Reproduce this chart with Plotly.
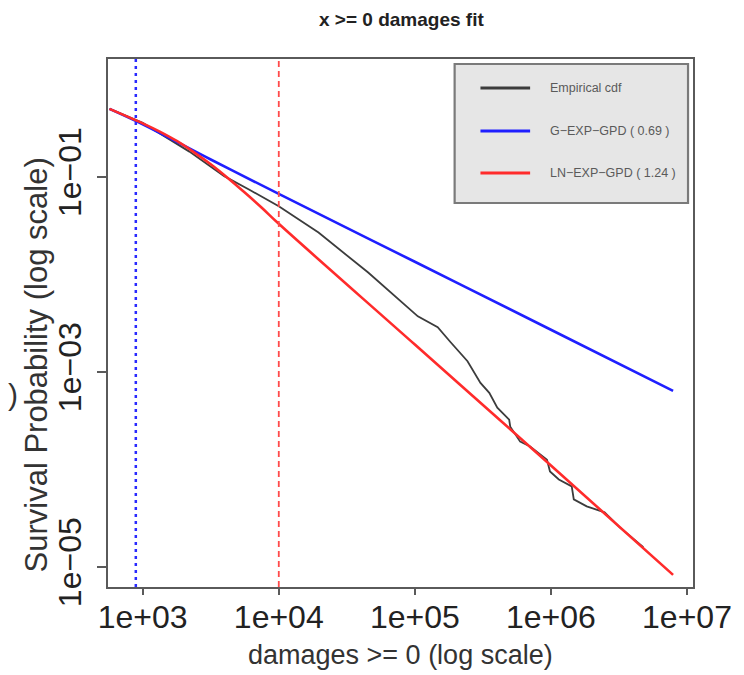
import plotly.graph_objects as go

# ---------------- data ----------------
emp_x = [570, 1000, 2203, 3972, 6039, 8453, 10000, 19590, 45390, 105200, 147200,
         183200, 243800, 303400, 352400, 403600, 493200, 502300, 594300, 703100,
         935400, 984000, 1143000, 1422000, 1472000, 1832000, 2477000, 3192000, 4775000]
emp_y = [0.50, 0.359, 0.182, 0.102, 0.0745, 0.0575, 0.0501, 0.0269, 0.01047, 0.00372,
         0.00288, 0.00202, 0.00129, 7.73e-4, 6.11e-4, 4.30e-4, 3.24e-4, 2.75e-4, 1.93e-4,
         1.72e-4, 1.26e-4, 9.55e-5, 7.91e-5, 6.71e-5, 4.94e-5, 4.19e-5, 3.64e-5, 2.56e-5, 1.60e-5]

gexp_x = [570, 1000, 3162, 10000, 100000, 1000000, 7900000]
gexp_y = [0.50, 0.347, 0.151, 0.0671, 0.0135, 0.00271, 6.4e-4]

lnexp_x = [570, 1000, 1334, 1778, 2371, 3162, 4217, 5623, 7499, 10000,
           100000, 1000000, 7900000]
lnexp_y = [0.50, 0.355, 0.292, 0.234, 0.180, 0.135, 0.0977, 0.0692, 0.0484, 0.0331,
           0.00191, 1.10e-4, 8.3e-6]

g_threshold = 890
ln_threshold = 10000

x_tickvals = [1e3, 1e4, 1e5, 1e6, 1e7]
x_ticktext = ["1e+03", "1e+04", "1e+05", "1e+06", "1e+07"]
y_tickvals = [1e-1, 1e-3, 1e-5]
y_ticktext = ["1e\u221201", "1e\u221203", "1e\u221205"]

legend_labels = ["Empirical cdf", "G\u2212EXP\u2212GPD ( 0.69 )", "LN\u2212EXP\u2212GPD ( 1.24 )"]
c_emp, c_g, c_ln = "#3c3c3c", "#1f1fff", "#ff2b2b"

# ---------------- figure ----------------
# page is 744x675; the html body adds an 8px offset, so the figure is drawn 8px in
OFF = 8
W, H = 744 - OFF, 675 - OFF
BOX_L, BOX_R, BOX_T, BOX_B = 108, 697, 59, 587          # plot box in page pixels
L, T = BOX_L - OFF, BOX_T - OFF
R, B = (W + OFF) - BOX_R, (H + OFF) - BOX_B
pw, ph = BOX_R - BOX_L, BOX_B - BOX_T

def px(x):
    return (x - BOX_L) / pw

def py(y):
    return (BOX_B - y) / ph

fig = go.Figure()
fig.add_trace(go.Scatter(x=emp_x, y=emp_y, mode="lines",
                         line=dict(color=c_emp, width=1.8), showlegend=False))
fig.add_trace(go.Scatter(x=gexp_x, y=gexp_y, mode="lines", line_shape="spline",
                         line=dict(color=c_g, width=2.6), showlegend=False))
fig.add_trace(go.Scatter(x=lnexp_x, y=lnexp_y, mode="lines", line_shape="spline",
                         line=dict(color=c_ln, width=2.6), showlegend=False))

shapes = [
    dict(type="line", xref="x", yref="paper", x0=g_threshold, x1=g_threshold, y0=0, y1=1,
         line=dict(color="#2a2aff", width=2.5, dash="3px,4px")),
    dict(type="line", xref="x", yref="paper", x0=ln_threshold, x1=ln_threshold, y0=0, y1=1,
         line=dict(color="#ff4a4a", width=1.8, dash="6px,4px")),
    # legend box
    dict(type="rect", xref="paper", yref="paper", x0=px(457), x1=px(692), y0=py(203), y1=py(64),
         fillcolor="#e6e6e6", line=dict(color="#7a7a7a", width=2.2)),
]
annotations = []
rows = [88, 131, 173]
for lab, col, ry in zip(legend_labels, [c_emp, c_g, c_ln], rows):
    shapes.append(dict(type="line", xref="paper", yref="paper", x0=px(483), x1=px(533),
                       y0=py(ry), y1=py(ry), line=dict(color=col, width=3)))
    annotations.append(dict(xref="paper", yref="paper", x=px(551), y=py(ry), text=lab,
                            showarrow=False, xanchor="left", yanchor="middle",
                            font=dict(size=12.5, color="#5a5a5a")))

# title
annotations.append(dict(xref="paper", yref="paper", x=px(404), y=py(19),
                        text="<b>x >= 0 damages fit</b>", showarrow=False,
                        xanchor="center", yanchor="middle",
                        font=dict(size=19, color="#222")))
# y axis title
annotations.append(dict(xref="paper", yref="paper", x=px(36), y=py(365),
                        text="Survival Probability (log scale)", showarrow=False,
                        textangle=-90, xanchor="center", yanchor="middle",
                        font=dict(size=31, color="#333")))
# stray bracket at the far left of the reference
annotations.append(dict(xref="paper", yref="paper", x=px(12), y=py(394),
                        text=")", showarrow=False, xanchor="center", yanchor="middle",
                        font=dict(size=30, color="#333")))
# x axis title
annotations.append(dict(xref="paper", yref="paper", x=px(402), y=py(655),
                        text="damages >= 0 (log scale)", showarrow=False,
                        xanchor="center", yanchor="middle",
                        font=dict(size=27, color="#333")))

fig.update_layout(
    width=W, height=H,
    margin=dict(l=L, r=R, t=T, b=B),
    paper_bgcolor="white", plot_bgcolor="white",
    font=dict(family="Liberation Sans, Arial, sans-serif", color="#222"),
    shapes=shapes, annotations=annotations, showlegend=False,
)
fig.update_xaxes(type="log", range=[2.745, 7.044], tickvals=x_tickvals, ticktext=x_ticktext,
                 showgrid=False, zeroline=False, showline=True, mirror=True,
                 linecolor="#5a5a5a", linewidth=1.8, ticks="outside", ticklen=6,
                 tickcolor="#5a5a5a", tickwidth=1.5, ticklabelstandoff=-5,
                 tickfont=dict(size=32, color="#222"))
fig.update_yaxes(type="log", range=[-5.205, 0.21], tickvals=y_tickvals, ticktext=y_ticktext,
                 showgrid=False, zeroline=False, showline=True, mirror=True,
                 linecolor="#5a5a5a", linewidth=1.8, ticks="outside", ticklen=9,
                 tickcolor="#5a5a5a", tickwidth=1.5, tickangle=-90,
                 ticklabelstandoff=3,
                 tickfont=dict(size=32, color="#222"))

fig.write_html("out.html")
